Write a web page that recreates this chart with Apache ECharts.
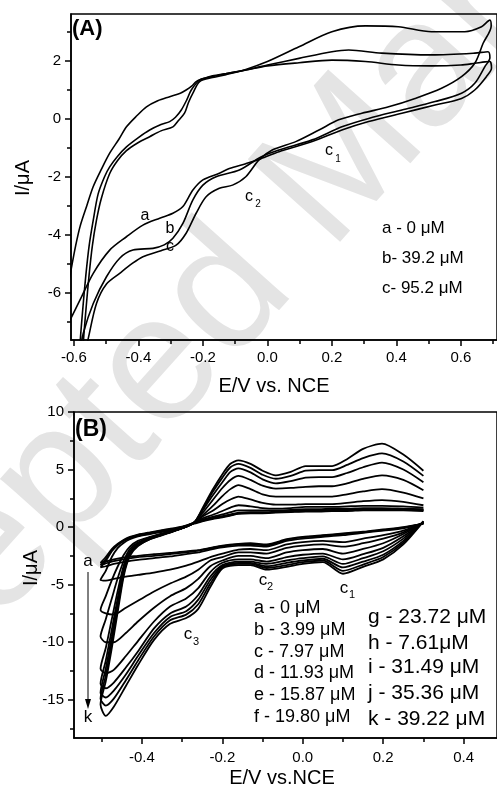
<!DOCTYPE html>
<html>
<head>
<meta charset="utf-8">
<script src="https://cdn.jsdelivr.net/npm/echarts@6/dist/echarts.min.js"></script>
<style>
  html, body { margin: 0; padding: 0; background: #fff; }
  #chart { width: 497px; height: 791px; }
</style>
</head>
<body>
<div id="chart"></div>
<script>
// ---------- panel A : three CV loops, [E, I] ----------
var cvA_a = [[-0.615,-5.6],[-0.607,-5.1],[-0.595,-4.4],[-0.581,-3.72],[-0.56,-3.0],[-0.54,-2.34],[-0.515,-1.75],[-0.489,-1.19],[-0.46,-0.7],[-0.437,-0.28],[-0.405,0.1],[-0.375,0.41],[-0.34,0.62],[-0.303,0.76],[-0.27,0.88],[-0.252,0.99],[-0.235,1.12],[-0.221,1.28],[-0.2,1.38],[-0.17,1.48],[-0.128,1.56],[-0.067,1.68],[0.0,1.82],[0.098,1.93],[0.2,2.02],[0.304,1.97],[0.406,1.85],[0.509,1.82],[0.6,1.85],[0.643,1.91],[0.675,1.96],[0.69,1.97],[0.695,1.75],[0.679,1.45],[0.643,0.99],[0.602,0.7],[0.52,0.47],[0.417,0.19],[0.314,-0.1],[0.231,-0.39],[0.139,-0.79],[0.036,-1.14],[-0.02,-1.38],[-0.067,-1.55],[-0.118,-1.72],[-0.149,-1.88],[-0.2,-2.11],[-0.231,-2.46],[-0.262,-3.03],[-0.293,-3.26],[-0.334,-3.43],[-0.386,-3.67],[-0.437,-4.07],[-0.489,-4.53],[-0.54,-5.33],[-0.581,-6.25],[-0.607,-6.83],[-0.615,-7.0]];
var cvA_b = [[-0.585,-8.6],[-0.58,-7.6],[-0.572,-6.5],[-0.563,-5.4],[-0.553,-4.4],[-0.54,-3.5],[-0.525,-2.6],[-0.505,-2.0],[-0.489,-1.66],[-0.465,-1.3],[-0.437,-0.97],[-0.4,-0.65],[-0.365,-0.39],[-0.33,-0.2],[-0.303,-0.1],[-0.285,0.05],[-0.267,0.3],[-0.25,0.65],[-0.236,0.99],[-0.21,1.33],[-0.17,1.45],[-0.128,1.55],[-0.067,1.68],[0.0,1.85],[0.098,2.08],[0.2,2.31],[0.252,2.37],[0.354,2.26],[0.509,2.2],[0.643,2.26],[0.684,2.31],[0.69,2.1],[0.674,1.79],[0.643,1.22],[0.602,0.88],[0.52,0.59],[0.417,0.3],[0.314,0.01],[0.231,-0.28],[0.139,-0.73],[0.036,-1.08],[-0.02,-1.32],[-0.087,-1.77],[-0.159,-2.0],[-0.2,-2.29],[-0.231,-2.8],[-0.262,-3.61],[-0.293,-4.12],[-0.32,-4.35],[-0.355,-4.47],[-0.417,-4.53],[-0.458,-4.81],[-0.499,-5.45],[-0.54,-6.37],[-0.571,-7.4],[-0.58,-8.0],[-0.585,-8.6]];
var cvA_c = [[-0.575,-8.6],[-0.57,-7.6],[-0.562,-6.5],[-0.553,-5.4],[-0.543,-4.4],[-0.53,-3.5],[-0.515,-2.75],[-0.489,-1.89],[-0.465,-1.45],[-0.437,-1.1],[-0.4,-0.82],[-0.365,-0.62],[-0.33,-0.42],[-0.293,-0.28],[-0.275,-0.05],[-0.257,0.19],[-0.245,0.55],[-0.231,0.88],[-0.21,1.28],[-0.17,1.42],[-0.128,1.52],[-0.067,1.7],[0.0,1.97],[0.098,2.48],[0.2,3.0],[0.304,3.2],[0.406,3.17],[0.509,3.0],[0.612,3.0],[0.664,3.17],[0.69,3.4],[0.694,3.2],[0.669,2.6],[0.643,1.91],[0.602,1.45],[0.54,1.05],[0.458,0.7],[0.376,0.41],[0.293,0.19],[0.221,-0.04],[0.16,-0.39],[0.088,-0.79],[0.015,-1.08],[-0.026,-1.42],[-0.067,-2.0],[-0.108,-2.29],[-0.149,-2.4],[-0.19,-2.69],[-0.221,-3.26],[-0.252,-3.95],[-0.283,-4.36],[-0.33,-4.55],[-0.386,-4.76],[-0.42,-5.0],[-0.458,-5.33],[-0.499,-5.7],[-0.53,-6.37],[-0.556,-7.6],[-0.57,-8.3],[-0.575,-8.6]];

var aXMajor = [-0.6, -0.4, -0.2, 0, 0.2, 0.4, 0.6];
var aXMinor = [-0.5, -0.3, -0.1, 0.1, 0.3, 0.5, 0.7];
var aYMajor = [-6, -4, -2, 0, 2];
var aYMinor = [-7, -5, -3, -1, 1, 3];

// ---------- panel B : eleven CVs ----------
// cathodic sweep, from +0.30 V back to the -0.50 V vertex
var bLowE = [0.30, 0.25, 0.20, 0.15, 0.10, 0.05, 0.00, -0.04, -0.09, -0.13, -0.16, -0.20, -0.23, -0.26, -0.29, -0.33, -0.37, -0.41, -0.44, -0.47, -0.49, -0.503];
// anodic sweep, from the vertex up to +0.30 V
var bUpE = [-0.503, -0.49, -0.475, -0.46, -0.445, -0.43, -0.41, -0.38, -0.34, -0.30, -0.27, -0.25, -0.225, -0.20, -0.18, -0.16, -0.13, -0.10, -0.067, -0.03, 0.007, 0.04, 0.073, 0.11, 0.15, 0.197, 0.25, 0.30];

var bLow_a = [0.3, 0.0, -0.2, -0.4, -0.55, -0.7, -0.85, -1.05, -1.5, -1.4, -1.45, -1.6, -1.8, -2.0, -2.1, -2.25, -2.35, -2.5, -2.6, -2.8, -3.0, -3.1];
var bLow_b = [0.3, -0.05, -0.25, -0.45, -0.6, -0.75, -0.9, -1.1, -1.6, -1.5, -1.5, -1.65, -1.85, -2.05, -2.2, -2.35, -2.5, -2.6, -2.75, -2.95, -3.15, -3.3];
var bLow_c = [0.35, -0.1, -0.3, -0.5, -0.7, -0.85, -1.0, -1.2, -1.7, -1.6, -1.6, -1.75, -1.95, -2.2, -2.35, -2.55, -2.7, -2.85, -3.0, -3.2, -3.4, -3.5];
var bLow_d = [0.35, -0.3, -0.7, -1.0, -1.3, -1.2, -1.3, -1.5, -2.0, -1.9, -1.95, -2.3, -2.6, -3.0, -3.35, -3.7, -3.95, -4.15, -4.3, -4.5, -4.65, -4.6];
var bLow_e = [0.4, -0.45, -1.0, -1.4, -1.7, -1.5, -1.6, -1.8, -2.3, -2.2, -2.2, -2.6, -2.9, -3.7, -4.3, -4.9, -5.6, -6.4, -7.0, -7.6, -7.5, -7.2];
var bLow_f = [0.4, -0.6, -1.4, -1.9, -2.3, -1.9, -2.0, -2.2, -2.7, -2.5, -2.5, -2.9, -3.4, -4.5, -5.3, -6.0, -7.0, -8.2, -9.2, -10.0, -10.0, -9.5];
var bLow_g = [0.45, -0.8, -1.8, -2.35, -2.8, -2.3, -2.4, -2.6, -3.0, -2.8, -2.8, -3.1, -3.9, -5.3, -6.2, -6.9, -8.2, -9.9, -11.2, -12.4, -12.7, -12.3];
var bLow_h = [0.45, -1.0, -2.1, -2.7, -3.2, -2.55, -2.7, -2.9, -3.2, -3.0, -3.0, -3.3, -4.3, -5.9, -6.9, -7.5, -8.8, -10.8, -12.2, -13.5, -14.0, -13.6];
var bLow_i = [0.5, -1.2, -2.4, -3.0, -3.5, -2.75, -2.9, -3.1, -3.4, -3.1, -3.1, -3.4, -4.6, -6.3, -7.3, -7.8, -9.2, -11.2, -12.8, -14.2, -14.8, -14.4];
var bLow_j = [0.5, -1.35, -2.6, -3.25, -3.8, -2.9, -3.05, -3.3, -3.55, -3.2, -3.2, -3.5, -4.9, -6.7, -7.6, -8.1, -9.5, -11.6, -13.3, -14.9, -15.5, -14.9];
var bLow_k = [0.5, -1.5, -2.8, -3.45, -4.05, -3.05, -3.2, -3.45, -3.7, -3.3, -3.3, -3.6, -5.2, -7.1, -7.9, -8.4, -9.8, -12.0, -13.8, -15.6, -16.4, -15.4];

var bUp_a = [-3.1, -2.6, -1.9, -1.45, -1.1, -0.85, -0.65, -0.45, -0.2, 0.05, 0.3, 0.5, 0.7, 0.85, 1.0, 1.15, 1.2, 1.2, 1.25, 1.3, 1.35, 1.35, 1.4, 1.4, 1.45, 1.45, 1.45, 1.4];
var bUp_b = [-3.3, -2.8, -2.0, -1.5, -1.15, -0.9, -0.7, -0.5, -0.25, 0.0, 0.35, 0.55, 0.75, 0.9, 1.05, 1.2, 1.25, 1.25, 1.3, 1.35, 1.4, 1.4, 1.45, 1.45, 1.5, 1.5, 1.5, 1.45];
var bUp_c = [-3.5, -2.95, -2.1, -1.55, -1.2, -0.95, -0.75, -0.55, -0.3, 0.0, 0.4, 0.6, 0.8, 0.95, 1.1, 1.25, 1.3, 1.3, 1.35, 1.4, 1.45, 1.45, 1.5, 1.5, 1.55, 1.55, 1.55, 1.5];
var bUp_d = [-4.6, -3.8, -2.6, -1.8, -1.35, -1.05, -0.8, -0.6, -0.35, -0.05, 0.4, 0.65, 0.9, 1.1, 1.3, 1.45, 1.45, 1.45, 1.45, 1.5, 1.55, 1.55, 1.6, 1.6, 1.65, 1.65, 1.6, 1.55];
var bUp_e = [-7.2, -6.0, -4.6, -3.4, -2.4, -1.7, -1.2, -0.85, -0.45, -0.1, 0.4, 0.75, 1.05, 1.4, 1.7, 1.9, 1.8, 1.65, 1.6, 1.65, 1.75, 1.75, 1.75, 1.8, 1.85, 1.85, 1.8, 1.7];
var bUp_f = [-9.5, -8.0, -6.2, -4.4, -2.9, -1.9, -1.35, -0.9, -0.5, -0.1, 0.4, 0.9, 1.4, 2.0, 2.4, 2.65, 2.4, 2.1, 1.95, 1.95, 2.0, 2.0, 2.0, 2.1, 2.25, 2.35, 2.2, 1.9];
var bUp_g = [-12.3, -10.5, -8.0, -5.5, -3.3, -2.1, -1.45, -0.95, -0.5, -0.1, 0.4, 1.0, 1.8, 2.7, 3.3, 3.65, 3.3, 2.85, 2.65, 2.65, 2.65, 2.65, 2.65, 2.85, 3.1, 3.3, 3.0, 2.5];
var bUp_h = [-13.6, -11.6, -8.9, -6.1, -3.6, -2.2, -1.5, -1.0, -0.55, -0.1, 0.4, 1.2, 2.3, 3.4, 4.1, 4.45, 4.1, 3.6, 3.35, 3.4, 3.5, 3.55, 3.55, 3.8, 4.2, 4.5, 4.1, 3.2];
var bUp_i = [-14.4, -12.3, -9.5, -6.5, -3.8, -2.3, -1.55, -1.0, -0.55, -0.1, 0.4, 1.4, 2.7, 3.9, 4.8, 5.1, 4.75, 4.15, 3.8, 4.0, 4.3, 4.35, 4.35, 4.7, 5.2, 5.6, 5.0, 3.9];
var bUp_j = [-14.9, -12.9, -10.0, -6.9, -4.0, -2.4, -1.6, -1.05, -0.55, -0.1, 0.4, 1.5, 3.0, 4.3, 5.2, 5.5, 5.15, 4.55, 4.2, 4.45, 4.9, 4.95, 4.95, 5.4, 6.0, 6.4, 5.7, 4.45];
var bUp_k = [-15.4, -13.4, -10.5, -7.3, -4.2, -2.5, -1.65, -1.05, -0.6, -0.1, 0.4, 1.6, 3.2, 4.6, 5.5, 5.8, 5.5, 4.9, 4.5, 4.8, 5.3, 5.3, 5.3, 5.9, 6.8, 7.25, 6.3, 4.9];

var bXMajor = [-0.4, -0.2, 0, 0.2, 0.4];
var bXMinor = [-0.5, -0.3, -0.1, 0.1, 0.3];
var bYMajor = [-15, -10, -5, 0, 5, 10];
var bYMinor = [-17.5, -12.5, -7.5, -2.5, 2.5, 7.5];

var bLows = [bLow_a, bLow_b, bLow_c, bLow_d, bLow_e, bLow_f, bLow_g, bLow_h, bLow_i, bLow_j, bLow_k];
var bUps = [bUp_a, bUp_b, bUp_c, bUp_d, bUp_e, bUp_f, bUp_g, bUp_h, bUp_i, bUp_j, bUp_k];

var FONT = 'Liberation Sans, Arial, sans-serif';

function pair(xs, ys) {
    return xs.map(function (x, i) { return [x, ys[i]]; });
}

function valueAxis(grid, pos, min, max, ticks, labels, tickLen, fmt, margin) {
    return {
        type: 'value', gridIndex: grid, position: pos, min: min, max: max,
        axisLine: { show: labels, onZero: false, lineStyle: { color: '#000', width: 1.5 } },
        axisTick: { show: true, length: tickLen, customValues: ticks, lineStyle: { color: '#000', width: 1.5 } },
        axisLabel: labels ? { customValues: ticks, formatter: fmt, fontSize: 15, color: '#000', fontFamily: FONT, margin: margin } : { show: false },
        splitLine: { show: false }
    };
}

var fmt1 = function (v) { return v.toFixed(1); };
var fmt0 = function (v) { return String(Math.round(v)); };

var series = [];
[cvA_a, cvA_b, cvA_c].forEach(function (d) {
    series.push({
        type: 'line', xAxisIndex: 0, yAxisIndex: 0, data: d, showSymbol: false, symbol: 'none',
        smooth: 0.3, lineStyle: { color: '#000', width: 1.6 }
    });
});
for (var i = 0; i < bLows.length; i++) {
    series.push({
        type: 'line', xAxisIndex: 2, yAxisIndex: 2,
        data: pair(bLowE, bLows[i]).concat(pair(bUpE, bUps[i])),
        showSymbol: false, symbol: 'none', smooth: 0.25,
        lineStyle: { color: '#000', width: 1.8 }
    });
}

function txt(x, y, s, size, opts) {
    opts = opts || {};
    return {
        type: 'text', x: x, y: y, rotation: opts.rot || 0, z: 10,
        style: {
            text: s, fill: '#000', textAlign: opts.align || 'center', textVerticalAlign: 'middle',
            font: (opts.bold ? 'bold ' : '') + size + 'px ' + FONT
        }
    };
}

var graphics = [
    // journal watermark, drawn underneath everything
    {
        type: 'text', x: 320, y: 190, rotation: 0.84, z: -10, silent: true,
        style: { text: 'Accepted Manuscript', fill: '#e4e4e4', textAlign: 'center', textVerticalAlign: 'middle', font: '180px ' + FONT }
    },
    txt(72, 29, '(A)', 22, { bold: true, align: 'left' }),
    txt(382, 228, 'a - 0 μM', 17, { align: 'left' }),
    txt(382, 258, 'b- 39.2 μM', 17, { align: 'left' }),
    txt(382, 288, 'c- 95.2 μM', 17, { align: 'left' }),
    txt(145, 216, 'a', 16), txt(170, 229, 'b', 16), txt(170, 247, 'c', 16),
    txt(329, 151, 'c', 16), txt(338, 159, '1', 10),
    txt(249, 197, 'c', 16), txt(258, 204, '2', 10),
    txt(274, 386, 'E/V vs. NCE', 20),
    txt(23, 178, 'I/μA', 20, { rot: Math.PI / 2 }),

    txt(75, 430, '(B)', 23, { bold: true, align: 'left' }),
    txt(88, 561, 'a', 17), txt(88, 717, 'k', 17),
    { type: 'line', z: 10, shape: { x1: 88, y1: 572, x2: 88, y2: 703 }, style: { stroke: '#000', lineWidth: 1 } },
    { type: 'polygon', z: 10, shape: { points: [[85, 699], [91, 699], [88, 709]] }, style: { fill: '#000' } },
    txt(263, 580, 'c', 17), txt(270, 587, '2', 11),
    txt(344, 588, 'c', 17), txt(352, 595, '1', 11),
    txt(188, 634, 'c', 17), txt(196, 642, '3', 11),
    txt(254, 608, 'a - 0 μM', 18, { align: 'left' }),
    txt(254, 630, 'b - 3.99 μM', 18, { align: 'left' }),
    txt(254, 652, 'c - 7.97 μM', 18, { align: 'left' }),
    txt(254, 673, 'd - 11.93 μM', 18, { align: 'left' }),
    txt(254, 695, 'e - 15.87 μM', 18, { align: 'left' }),
    txt(254, 717, 'f - 19.80 μM', 18, { align: 'left' }),
    txt(368, 617, 'g - 23.72 μM', 21, { align: 'left' }),
    txt(368, 643, 'h - 7.61μM', 21, { align: 'left' }),
    txt(368, 667, 'i - 31.49 μM', 21, { align: 'left' }),
    txt(368, 693, 'j - 35.36 μM', 21, { align: 'left' }),
    txt(368, 719, 'k - 39.22 μM', 21, { align: 'left' }),
    txt(282, 778, 'E/V vs.NCE', 20),
    txt(31, 568, 'I/μA', 20, { rot: Math.PI / 2 })
];

var chart = echarts.init(document.getElementById('chart'), null, { renderer: 'canvas' });
chart.setOption({
    animation: false,
    backgroundColor: '#fff',
    grid: [
        { left: 71, top: 14, width: 428, height: 326, show: true, borderColor: '#000', borderWidth: 1.5 },
        { left: 74, top: 412, width: 425, height: 326, show: true, borderColor: '#000', borderWidth: 1.5 }
    ],
    xAxis: [
        valueAxis(0, 'bottom', -0.609, 0.712, aXMajor, true, 6, fmt1, 10),
        valueAxis(0, 'bottom', -0.609, 0.712, aXMinor, false, 4),
        valueAxis(1, 'bottom', -0.569, 0.483, bXMajor, true, 6, fmt1, 12),
        valueAxis(1, 'bottom', -0.569, 0.483, bXMinor, false, 4)
    ],
    yAxis: [
        valueAxis(0, 'left', -7.63, 3.61, aYMajor, true, 6, fmt0, 10),
        valueAxis(0, 'left', -7.63, 3.61, aYMinor, false, 4),
        valueAxis(1, 'left', -18.32, 10, bYMajor, true, 6, fmt0, 10),
        valueAxis(1, 'left', -18.32, 10, bYMinor, false, 4)
    ],
    series: series,
    graphic: graphics
});
</script>
</body>
</html>
